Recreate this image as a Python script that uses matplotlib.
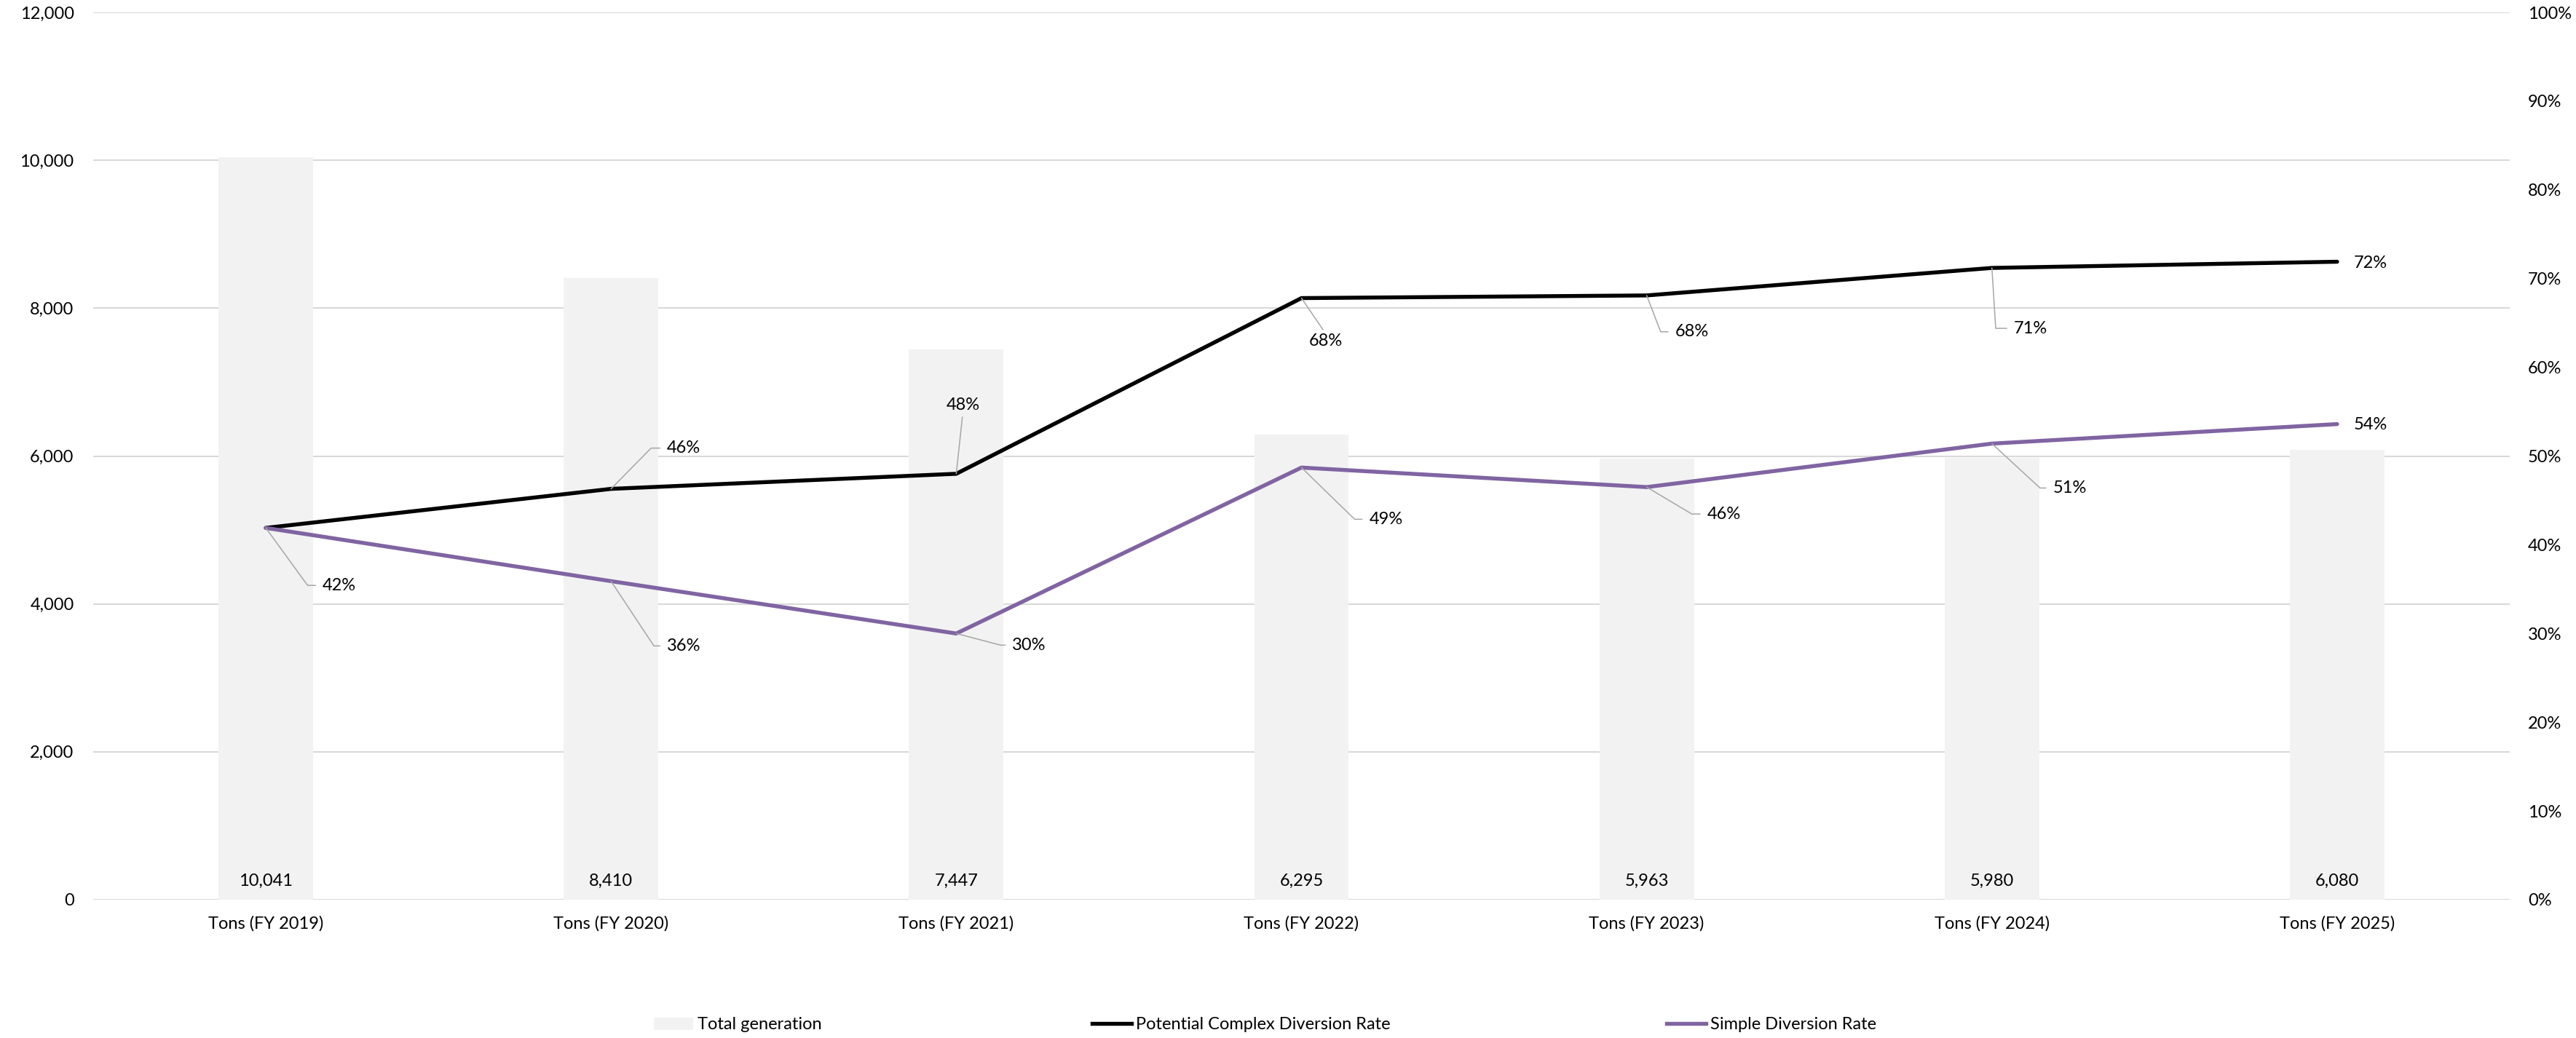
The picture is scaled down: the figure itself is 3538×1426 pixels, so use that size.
import math

import matplotlib.pyplot as plt
import numpy as np
from matplotlib.lines import Line2D
from matplotlib.patches import Patch
from matplotlib.ticker import FuncFormatter, MultipleLocator

plt.rcParams['font.family'] = ['Lato', 'DejaVu Sans']

CATEGORIES = ['Tons (FY 2019)', 'Tons (FY 2020)', 'Tons (FY 2021)', 'Tons (FY 2022)',
              'Tons (FY 2023)', 'Tons (FY 2024)', 'Tons (FY 2025)']
TOTAL_TONS = [10041, 8410, 7447, 6295, 5963, 5980, 6080]
COMPLEX_RATE = [41.9, 46.3, 48.0, 67.8, 68.1, 71.2, 71.9]
SIMPLE_RATE = [41.9, 35.9, 30.0, 48.7, 46.5, 51.4, 53.6]
SERIES_NAMES = ['Total generation', 'Potential Complex Diversion Rate', 'Simple Diversion Rate']

BAR_COLOR = '#F2F2F2'
COMPLEX_COLOR = '#000000'
SIMPLE_COLOR = '#8064A2'
GRID_COLOR = '#D9D9D9'
LEADER_COLOR = '#A6A6A6'
FONT_SIZE = 17
LINE_WIDTH = 3.9

# label placement per point: (text dx, text dy, style, corner dx, corner dy) in pixels
COMPLEX_LABELS = [
    None,
    (77, 56, 'elbow', 57, 58),
    (9, 94, 'above', 0, 0),
    (33, -59, 'below', 0, 0),
    (39, -50, 'elbow', 18, -47),
    (30, -83, 'elbow', 5, -79),
    (23, -2, 'plain', 0, 0),
]
SIMPLE_LABELS = [
    (78, -79, 'elbow', 56, -77),
    (77, -89, 'elbow', 57, -86),
    (77, -16, 'elbow', 57, -15),
    (93, -71, 'elbow', 73, -71),
    (83, -37, 'elbow', 62, -37),
    (84, -61, 'elbow', 64, -59),
    (23, -1, 'plain', 0, 0),
]

W, H = 3538, 1426
fig = plt.figure(figsize=(W / 100, H / 100), dpi=100)
ax = fig.add_axes([128 / W, 1 - 1236 / H, (3447 - 128) / W, (1236 - 17) / H])
ax2 = ax.twinx()

x = np.arange(len(CATEGORIES))

# bars on the tonnage axis
ax.bar(x, TOTAL_TONS, width=0.274, color=BAR_COLOR, zorder=2)
for xi, v in zip(x, TOTAL_TONS):
    ax.annotate(f"{v:,}", (xi, 0), xytext=(0, 26), textcoords='offset pixels',
                ha='center', va='center', fontsize=FONT_SIZE, zorder=3)

ax.set_xlim(-0.5, len(CATEGORIES) - 0.5)
ax.set_ylim(0, 12000)
ax.yaxis.set_major_locator(MultipleLocator(2000))
ax.yaxis.set_major_formatter(FuncFormatter(lambda v, _: f"{v:,.0f}"))
ax.set_axisbelow(True)
ax.grid(axis='y', color=GRID_COLOR, lw=1.5)
ax.set_xticks(x)
ax.set_xticklabels(CATEGORIES)
ax.tick_params(axis='both', length=0, labelsize=FONT_SIZE)
ax.tick_params(axis='y', pad=19)
ax.tick_params(axis='x', pad=16)

# rate lines on the percentage axis
ax2.plot(x, COMPLEX_RATE, color=COMPLEX_COLOR, lw=LINE_WIDTH, solid_capstyle='round')
ax2.plot(x, SIMPLE_RATE, color=SIMPLE_COLOR, lw=LINE_WIDTH, solid_capstyle='round')
ax2.set_ylim(0, 100)
ax2.yaxis.set_major_locator(MultipleLocator(10))
ax2.yaxis.set_major_formatter(FuncFormatter(lambda v, _: f"{v:.0f}%"))
ax2.tick_params(axis='y', length=0, labelsize=FONT_SIZE, pad=18)

for a in (ax, ax2):
    for s in a.spines.values():
        s.set_visible(False)


def label_points(values, layout):
    for xi, v, spec in zip(x, values, layout):
        if spec is None:
            continue
        dx, dy, style, cx, cy = spec
        kw = dict(xytext=(dx, dy), textcoords='offset pixels', fontsize=FONT_SIZE,
                  va='center', ha='left', annotation_clip=False)
        if style == 'elbow':
            ang = math.degrees(math.atan2(cy, cx))
            kw['arrowprops'] = dict(arrowstyle='-', color=LEADER_COLOR, lw=1.1,
                                    shrinkA=5, shrinkB=0, relpos=(0, 0.5),
                                    connectionstyle=f"angle,angleA=0,angleB={ang:.1f},rad=0")
        elif style in ('above', 'below'):
            kw['ha'] = 'center'
            kw['arrowprops'] = dict(arrowstyle='-', color=LEADER_COLOR, lw=1.1,
                                    shrinkA=2, shrinkB=0,
                                    relpos=(0.5, 0) if style == 'above' else (0.5, 1))
        ax2.annotate(f"{v:.0f}%", (xi, v), **kw)


label_points(COMPLEX_RATE, COMPLEX_LABELS)
label_points(SIMPLE_RATE, SIMPLE_LABELS)

# legend entries placed one by one along the bottom
handles = [
    Patch(facecolor=BAR_COLOR, edgecolor='none'),
    Line2D([], [], color=COMPLEX_COLOR, lw=LINE_WIDTH),
    Line2D([], [], color=SIMPLE_COLOR, lw=LINE_WIDTH),
]
for h, name, left in zip(handles, SERIES_NAMES, [898, 1500, 2289]):
    fig.legend([h], [name], loc='center left', bbox_to_anchor=(left / W, 1 - 1408 / H),
               frameon=False, fontsize=FONT_SIZE, handlelength=2.3, handletextpad=0.25,
               borderpad=0, borderaxespad=0)

fig.savefig('out.png', dpi=100)
